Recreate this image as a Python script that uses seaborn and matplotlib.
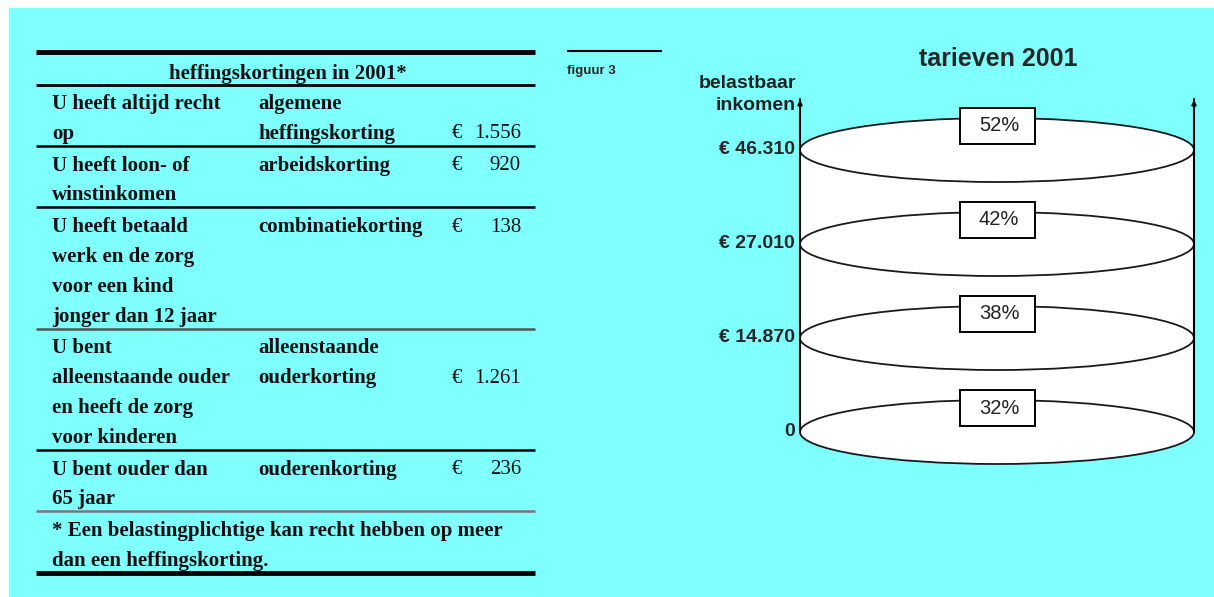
import matplotlib
matplotlib.use("Agg")
import matplotlib.pyplot as plt
from matplotlib.patches import Ellipse, Rectangle
import seaborn as sns
import pandas as pd

# ---------------- data ----------------
table_title = "heffingskortingen in 2001*"
row_conditions = [
    ["U heeft altijd recht", "op"],
    ["U heeft loon- of", "winstinkomen"],
    ["U heeft betaald", "werk en de zorg", "voor een kind", "jonger dan 12 jaar"],
    ["U bent", "alleenstaande ouder", "en heeft de zorg", "voor kinderen"],
    ["U bent ouder dan", "65 jaar"],
]
row_names = [
    ["algemene", "heffingskorting"],
    ["arbeidskorting"],
    ["combinatiekorting"],
    ["alleenstaande", "ouderkorting"],
    ["ouderenkorting"],
]
row_amounts = ["1.556", "920", "138", "1.261", "236"]
footnote = ["* Een belastingplichtige kan recht hebben op meer",
            "dan een heffingskorting."]

chart_title = "tarieven 2001"
figure_label = "figuur 3"
axis_label = ["belastbaar", "inkomen"]
bracket_bounds = ["0", "€ 14.870", "€ 27.010", "€ 46.310"]
bracket_rates = ["32%", "38%", "42%", "52%"]

# ---------------- setup ----------------
sns.set_theme(style="white")
plt.rcParams["font.family"] = ["Liberation Sans", "DejaVu Sans"]

W, H = 1214, 597
fig = plt.figure(figsize=(W / 100, H / 100), dpi=100)
fig.patch.set_facecolor("white")
CYAN = "#80FFFF"
fig.patches.append(Rectangle((9 / W, 0), 1 - 9 / W, 1 - 8 / H,
                             transform=fig.transFigure, color=CYAN, zorder=-10))

# ---------- left: table (pixel layout axes) ----------
axt = fig.add_axes([0, 0, 1, 1])
axt.set_xlim(0, W)
axt.set_ylim(H, 0)
axt.axis("off")
axt.patch.set_alpha(0)

serif = ["Liberation Serif", "DejaVu Serif"]
FS = 15
x0, x1 = 36, 535
col1, col2, col_eur, col_amt = 52, 258, 452, 521
TXT = "#111111"

axt.hlines(52, x0, x1, color="black", lw=3.5)
axt.text((x0 + x1) / 2 + 2, 74, table_title, ha="center", va="center",
         family=serif, fontsize=FS, fontweight="bold", color=TXT)
axt.hlines(85, x0, x1, color="black", lw=2)

pitch = 29.8
gap = 2.0
y = 104
rule_colors = ["black", "black", "#555555", "black", "#777777"]
for i, (cond, name, amt) in enumerate(zip(row_conditions, row_names, row_amounts)):
    for j, line in enumerate(cond):
        axt.text(col1, y + j * pitch, line, ha="left", va="center",
                 family=serif, fontsize=FS, fontweight="bold", color=TXT)
    for j, line in enumerate(name):
        axt.text(col2, y + j * pitch, line, ha="left", va="center",
                 family=serif, fontsize=FS, fontweight="bold", color=TXT)
    amt_line = len(name) - 1
    axt.text(col_eur, y + amt_line * pitch, "€", ha="left", va="center",
             family=serif, fontsize=FS, color=TXT)
    axt.text(col_amt, y + amt_line * pitch, amt, ha="right", va="center",
             family=serif, fontsize=FS, color=TXT)
    n = max(len(cond), len(name))
    ylast = y + (n - 1) * pitch
    axt.hlines(ylast + 12, x0, x1, color=rule_colors[i], lw=1.8)
    y = ylast + pitch + gap

for j, line in enumerate(footnote):
    axt.text(col1, y + j * pitch, line, ha="left", va="center",
             family=serif, fontsize=FS, fontweight="bold", color=TXT)
axt.hlines(y + pitch + 12, x0, x1, color="black", lw=3.5)

# figure label and title
axt.hlines(51, 567, 662, color="black", lw=1.5)
axt.text(567, 71, figure_label, ha="left", va="center", fontsize=9.5,
         fontweight="bold")
axt.text(998, 59, chart_title, ha="center", va="center", fontsize=18,
         fontweight="bold")

# ---------- right: cylinder chart ----------
ax = fig.add_axes([640 / W, 0, (W - 640) / W, 1 - 30 / H])
ax.patch.set_alpha(0)
pxx, pxy = 197.0, 94.0
ax.set_xlim(-1 - 160 / pxx, 1 + 20 / pxx)
ax.set_ylim(-165 / pxy, 3 + 120 / pxy)

levels = list(range(len(bracket_bounds)))
ell_h = 2 * 32 / pxy
top = levels[-1] + 51 / pxy

ax.add_patch(Rectangle((-1, levels[0]), 2, levels[-1] - levels[0],
                       facecolor="white", edgecolor="none", zorder=1))
for lv in levels:
    ax.add_patch(Ellipse((0, lv), 2, ell_h, facecolor="white",
                         edgecolor="#1a1a1a", lw=1.3, zorder=2))

sides = pd.DataFrame({"x": [-1, -1, 1, 1],
                      "y": [levels[0], top, levels[0], top],
                      "side": ["l", "l", "r", "r"]})
sns.lineplot(data=sides, x="x", y="y", units="side", estimator=None,
             color="black", lw=1.5, ax=ax, zorder=3, sort=False)
ax.axis("off")
for sx in (-1, 1):
    ax.annotate("", xy=(sx, top + 0.02), xytext=(sx, top - 0.08),
                arrowprops=dict(arrowstyle="-|>", color="black", lw=1.2,
                                mutation_scale=7), zorder=4)

bw, bh, boff = 75 / pxx, 36 / pxy, 24 / pxy
for lv, rate, bound in zip(levels, bracket_rates, bracket_bounds):
    ax.add_patch(Rectangle((-bw / 2, lv + boff - bh / 2), bw, bh,
                           facecolor="white", edgecolor="black", lw=1.4,
                           zorder=5))
    ax.text(0.01, lv + boff, rate, ha="center", va="center", fontsize=14.5,
            color="#222222", zorder=6)
    ax.text(-1 - 5 / pxx, lv, bound, ha="right", va="center", fontsize=14,
            fontweight="bold")

ax.text(-1 - 4 / pxx, top + 15 / pxy, axis_label[0], ha="right",
        va="center", fontsize=14, fontweight="bold", color="#222222")
ax.text(-1 - 4 / pxx, top - 7 / pxy, axis_label[1], ha="right", va="center",
        fontsize=14, fontweight="bold", color="#222222")

fig.savefig("out.png", dpi=100, facecolor=fig.get_facecolor())
